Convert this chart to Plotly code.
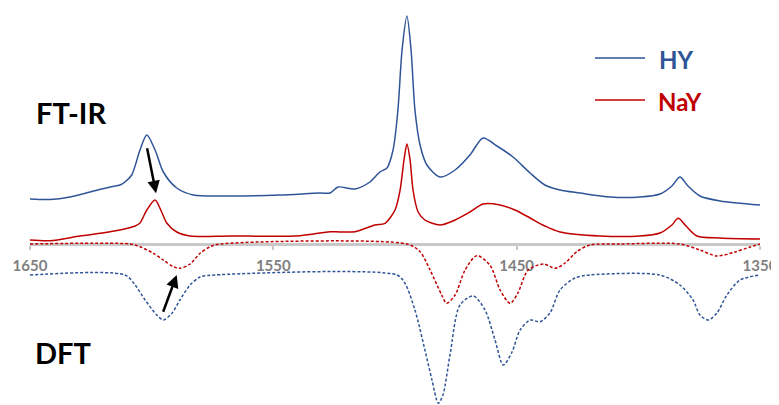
import plotly.graph_objects as go

# ---------------- data ----------------
hy_wn = [1650.0, 1641.8, 1633.6, 1625.3, 1617.1, 1613.0, 1611.0, 1608.2, 1604.8, 1602.0,
         1598.6, 1595.2, 1589.7, 1582.9, 1567.8, 1547.3, 1530.8, 1526.7, 1523.4, 1516.4,
         1510.3, 1506.2, 1503.3, 1500.8, 1498.8, 1497.1, 1495.1, 1493.4, 1491.8, 1489.7,
         1486.9, 1481.5, 1475.3, 1469.2, 1463.8, 1458.1, 1451.5, 1444.5, 1438.4, 1432.2,
         1424.0, 1411.6, 1399.3, 1391.1, 1386.2, 1382.9, 1379.6, 1374.7, 1366.4, 1350.0]
hy_abs = [0.45, 0.445, 0.47, 0.52, 0.57, 0.59, 0.62, 0.69, 0.94, 1.09,
          0.94, 0.72, 0.56, 0.49, 0.48, 0.49, 0.51, 0.51, 0.57, 0.55,
          0.62, 0.72, 0.76, 0.94, 1.34, 1.94, 2.28, 1.94, 1.34, 0.99,
          0.79, 0.67, 0.74, 0.89, 1.06, 0.98, 0.87, 0.71, 0.59, 0.54,
          0.51, 0.47, 0.47, 0.50, 0.58, 0.67, 0.58, 0.48, 0.43, 0.39]

nay_wn = [1650.0, 1641.8, 1629.5, 1621.2, 1613.0, 1606.8, 1604.8, 1602.0, 1598.6, 1595.9,
          1593.8, 1589.7, 1584.2, 1567.8, 1539.0, 1526.7, 1522.6, 1516.4, 1508.2, 1504.1,
          1500.0, 1497.9, 1496.3, 1495.1, 1493.8, 1492.6, 1490.5, 1487.7, 1481.5, 1475.3,
          1469.2, 1463.8, 1456.8, 1450.7, 1444.5, 1438.4, 1432.2, 1415.8, 1399.3, 1391.1,
          1386.2, 1383.6, 1380.4, 1375.9, 1366.4, 1350.0]
nay_abs = [0.04, 0.033, 0.08, 0.107, 0.14, 0.18, 0.21, 0.34, 0.44, 0.32,
           0.21, 0.12, 0.08, 0.08, 0.083, 0.123, 0.12, 0.123, 0.19, 0.207,
           0.34, 0.54, 0.84, 1.00, 0.84, 0.54, 0.32, 0.24, 0.19, 0.24,
           0.32, 0.40, 0.39, 0.34, 0.26, 0.18, 0.12, 0.08, 0.08, 0.11,
           0.19, 0.257, 0.18, 0.08, 0.06, 0.05]

dft_nay_wn = [1650.0, 1608.9, 1604.8, 1599.3, 1595.2, 1591.1, 1588.4, 1584.2, 1580.1, 1576.0,
              1571.9, 1495.1, 1489.7, 1485.6, 1480.8, 1478.8, 1475.3, 1471.2, 1466.4, 1461.0,
              1456.8, 1452.7, 1449.5, 1445.3, 1439.0, 1434.2, 1430.1, 1425.3, 1419.9, 1407.5,
              1382.9, 1374.7, 1367.8, 1360.3, 1354.1, 1350.0]
dft_nay_int = [0.0, 0.0, -0.027, -0.093, -0.16, -0.227, -0.243, -0.20, -0.093, -0.027,
               0.0, 0.0, -0.077, -0.26, -0.51, -0.593, -0.51, -0.26, -0.117, -0.21,
               -0.46, -0.593, -0.49, -0.26, -0.20, -0.243, -0.19, -0.077, -0.01, 0.0,
               0.0, -0.06, -0.12, -0.08, -0.03, 0.0]

dft_hy_wn = [1650.0, 1611.0, 1606.8, 1602.7, 1597.9, 1595.2, 1591.6, 1588.4, 1584.2, 1580.1,
             1574.0, 1499.2, 1495.9, 1491.8, 1487.7, 1484.8, 1482.2, 1480.3, 1477.4, 1473.3,
             1467.8, 1463.0, 1458.9, 1455.5, 1451.9, 1448.6, 1444.5, 1440.4, 1436.3, 1432.2,
             1426.0, 1419.9, 1391.1, 1382.9, 1377.5, 1374.7, 1371.2, 1367.7, 1363.6, 1358.2,
             1350.0]
dft_hy_int = [-0.31, -0.31, -0.41, -0.56, -0.71, -0.76, -0.69, -0.56, -0.41, -0.33,
              -0.31, -0.31, -0.393, -0.66, -1.06, -1.36, -1.593, -1.51, -1.11, -0.61,
              -0.52, -0.66, -0.96, -1.21, -1.08, -0.86, -0.76, -0.777, -0.69, -0.46,
              -0.34, -0.31, -0.31, -0.41, -0.56, -0.71, -0.76, -0.69, -0.51, -0.36,
              -0.31]

tick_vals = [1650, 1550, 1450, 1350]
tick_text = ["1650", "1550", "1450", "1350"]

BLUE = "#2F5597"
RED = "#C00000"
OFF = 8                      # page body margin
W, H = 779 - OFF, 405 - OFF  # figure size so that it ends at the window edge

fig = go.Figure()
common = dict(mode="lines", line_shape="spline", showlegend=False, hoverinfo="skip")
fig.add_trace(go.Scatter(x=hy_wn, y=hy_abs, name="HY",
                         line=dict(color=BLUE, width=1.5, smoothing=0.8), **common))
fig.add_trace(go.Scatter(x=nay_wn, y=nay_abs, name="NaY",
                         line=dict(color=RED, width=1.5, smoothing=0.8), **common))
fig.add_trace(go.Scatter(x=dft_nay_wn, y=dft_nay_int, name="NaY DFT",
                         line=dict(color=RED, width=1.5, dash="3px,2px", smoothing=0.8), **common))
fig.add_trace(go.Scatter(x=dft_hy_wn, y=dft_hy_int, name="HY DFT",
                         line=dict(color=BLUE, width=1.5, dash="3px,2px", smoothing=0.8), **common))

AXIS_PX = 244  # window pixel row of the x axis line
ymax = (AXIS_PX - OFF) / 100
ymin = (AXIS_PX - 405) / 100
axis_pos = -ymin / (ymax - ymin)

def px_x(p):
    return (p - OFF) / W

def px_y(p):
    return 1 - (p - OFF) / H

fig.update_layout(
    width=W, height=H,
    margin=dict(l=0, r=0, t=0, b=0, autoexpand=False),
    paper_bgcolor="white", plot_bgcolor="white",
    xaxis=dict(range=[1650, 1350], domain=[px_x(30), px_x(760)], anchor="free", position=axis_pos,
               automargin=False, layer="below traces",
               showline=True, linecolor="#C8C8C8", linewidth=3, showgrid=False, zeroline=False,
               tickvals=tick_vals, ticktext=tick_text, ticks="outside", ticklen=4, tickwidth=2,
               tickcolor="#C8C8C8", ticklabelstandoff=3,
               tickfont=dict(family="Lato", size=15, color="#808080", weight="bold")),
    yaxis=dict(range=[ymin, ymax], visible=False, showgrid=False, zeroline=False,
               automargin=False),
    font=dict(family="Lato"),
)

# titles
fig.add_annotation(text="FT-IR", x=px_x(71), y=px_y(112), xref="paper", yref="paper",
                   showarrow=False, xanchor="center", yanchor="middle",
                   font=dict(family="Lato", size=29, color="black", weight="bold"))
fig.add_annotation(text="DFT", x=px_x(63.5), y=px_y(352.5), xref="paper", yref="paper",
                   showarrow=False, xanchor="center", yanchor="middle",
                   font=dict(family="Lato", size=29, color="black", weight="bold"))

# legend (custom)
for name, col, yy, tx in [("HY", BLUE, 58, 657), ("NaY", RED, 100, 656)]:
    fig.add_shape(type="line", xref="paper", yref="paper", x0=px_x(595), x1=px_x(645),
                  y0=px_y(yy), y1=px_y(yy), line=dict(color=col, width=1.5))
    fig.add_annotation(text=name, x=px_x(tx), y=px_y(yy + 1), xref="paper", yref="paper",
                       showarrow=False, xanchor="left", yanchor="middle",
                       font=dict(family="Lato", size=24, color=col, weight="bold"))

# arrows
fig.add_annotation(x=1598.2, y=0.507, ax=1602.0, ay=0.973, xref="x", yref="y",
                   axref="x", ayref="y", text="", showarrow=True, arrowhead=2,
                   arrowsize=1, arrowwidth=2.5, arrowcolor="black")
fig.add_annotation(x=1589.7, y=-0.31, ax=1595.5, ay=-0.693, xref="x", yref="y",
                   axref="x", ayref="y", text="", showarrow=True, arrowhead=2,
                   arrowsize=1, arrowwidth=2.5, arrowcolor="black")

fig.write_html("out.html")
